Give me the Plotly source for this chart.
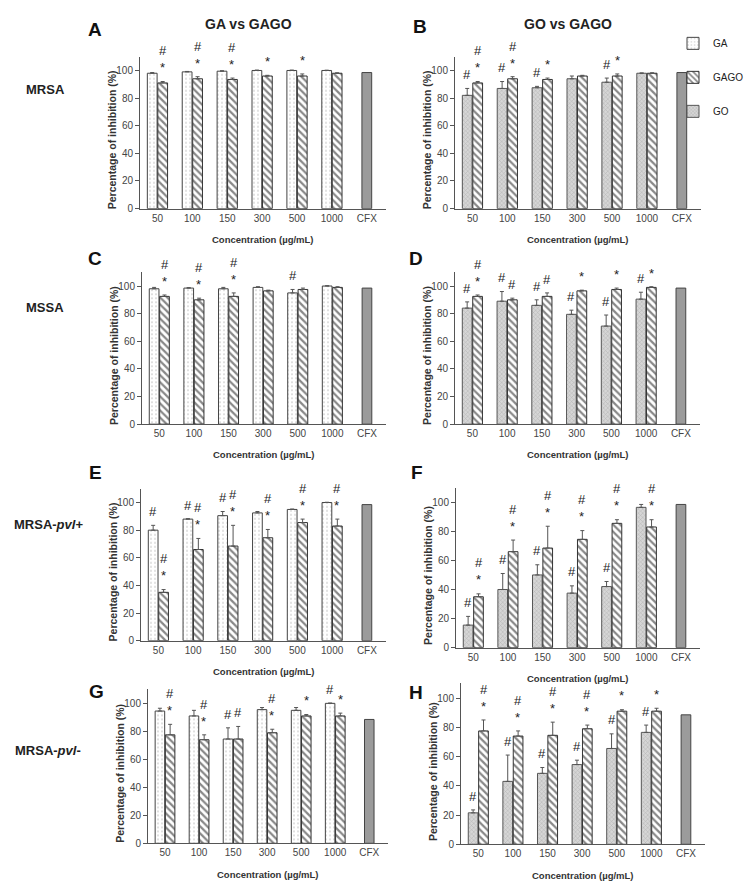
import plotly.graph_objects as go
from plotly.subplots import make_subplots

# ---------------- data ----------------
conc_labels = ["50", "100", "150", "300", "500", "1000"]
cfx_label = "CFX"

# MRSA
mrsa_ga = [98, 99, 99.5, 100, 100, 100]
mrsa_ga_err = [0.5, 0.3, 0.3, 0.3, 0.3, 0.2]
mrsa_gago = [91, 94, 93.5, 96, 96, 98]
mrsa_gago_err = [1, 1.5, 1, 0.5, 1.5, 0.3]
mrsa_go = [82, 87, 87.5, 94, 91.5, 98]
mrsa_go_err = [5, 5, 1, 2, 3, 0.2]
mrsa_cfx = 98.5

# MSSA
mssa_ga = [98, 98.5, 98, 99, 95, 100]
mssa_ga_err = [1, 0.3, 1, 0.5, 2.5, 0.2]
mssa_gago = [92.5, 90, 92.5, 96.5, 97.5, 99]
mssa_gago_err = [1, 1.2, 2.5, 0.5, 1, 0.5]
mssa_go = [84, 89, 86, 79.5, 71, 90.5]
mssa_go_err = [4.5, 7, 4, 3, 8, 5]
mssa_cfx = 98.5

# MRSA-pvl+
pvlp_ga = [80, 88, 90.5, 92.5, 95, 100]
pvlp_ga_err = [3.5, 0.3, 3, 1, 0.3, 0.2]
pvlp_gago = [35, 66, 68.5, 74.5, 85.5, 83]
pvlp_gago_err = [2, 8, 15, 6, 2.5, 5]
pvlp_go = [15.5, 40, 50, 37.5, 42, 96.5]
pvlp_go_err = [6, 11, 7, 5, 3.5, 2]
pvlp_cfx = 98.5

# MRSA-pvl-
pvln_ga = [94.5, 91, 74.5, 95.5, 95, 100]
pvln_ga_err = [2, 4, 8, 1.5, 2, 0.2]
pvln_gago = [77.5, 74, 74.5, 79, 91, 91]
pvln_gago_err = [7.5, 3.5, 9, 2.5, 1, 2]
pvln_go = [21.5, 43, 48.5, 54.5, 65.5, 76.5]
pvln_go_err = [2, 18, 4, 3, 10, 5]
pvln_cfx = 88.5

# significance marks ("#" vs control, "*" GAGO vs single)
sig_A_ga = ["", "", "", "", "", ""]
sig_A_gago = ["#*", "#*", "#*", "*", "*", ""]
sig_B_go = ["#", "#", "#", "", "#", ""]
sig_B_gago = ["#*", "#*", "*", "", "*", ""]
sig_C_ga = ["", "", "", "", "#", ""]
sig_C_gago = ["#*", "#*", "#*", "", "", ""]
sig_D_go = ["#", "#", "#", "#", "#", "#"]
sig_D_gago = ["#*", "#", "#", "*", "*", "*"]
sig_E_ga = ["#", "#", "#", "", "", ""]
sig_E_gago = ["#*", "#*", "#*", "#*", "#*", "#*"]
sig_F_go = ["#", "#", "#", "#", "#", ""]
sig_F_gago = ["#*", "#*", "#*", "#*", "#*", "#*"]
sig_G_ga = ["", "", "#", "", "", "#"]
sig_G_gago = ["#*", "#*", "#", "#*", "*", "*"]
sig_H_go = ["#", "#", "#", "#", "#", "#"]
sig_H_gago = ["#*", "#*", "#*", "#*", "*", "*"]

row_labels = ["MRSA", "MSSA", "MRSA-<i>pvl</i>+", "MRSA-<i>pvl</i>-"]
col_titles = ["GA vs GAGO", "GO vs GAGO"]
panel_letters = ["A", "B", "C", "D", "E", "F", "G", "H"]
y_title = "Percentage of inhibition (%)"
x_title = "Concentration (µg/mL)"

# ---------------- styles ----------------
W, H = 753, 885
FONT = "Liberation Sans, Arial, sans-serif"

style = {
    "GA": dict(color="white",
               pattern=dict(shape=".", fgcolor="#8a8a8a", bgcolor="white", size=4, solidity=0.15),
               line=dict(color="#444", width=1)),
    "GAGO": dict(color="white",
                 pattern=dict(shape="\\", fgcolor="#111", bgcolor="white", size=5, solidity=0.45),
                 line=dict(color="#333", width=1)),
    "GO": dict(color="#cfcfcf",
               pattern=dict(shape="x", fgcolor="#8a8a8a", bgcolor="#d6d6d6", size=3, solidity=0.3),
               line=dict(color="#555", width=1)),
    "CFX": dict(color="#9b9b9b", line=dict(color="#444", width=1)),
}

# panel boxes in pixels: left, right, top(=110%), bottom(=0%)
boxes = [
    (132, 378, 49, 202), (447, 693, 49, 202),
    (134, 378, 266, 419), (447, 692, 266, 419),
    (133, 378, 484, 637), (448, 692, 483, 644),
    (140, 380, 686, 841), (453, 697, 680, 842),
]
letter_pos = [(87, 22), (412, 19), (87, 252), (408, 252), (87, 468), (409, 468), (88, 688), (408, 689)]

panels = [
    ("GA", mrsa_ga, mrsa_ga_err, sig_A_ga, mrsa_gago, mrsa_gago_err, sig_A_gago, mrsa_cfx),
    ("GO", mrsa_go, mrsa_go_err, sig_B_go, mrsa_gago, mrsa_gago_err, sig_B_gago, mrsa_cfx),
    ("GA", mssa_ga, mssa_ga_err, sig_C_ga, mssa_gago, mssa_gago_err, sig_C_gago, mssa_cfx),
    ("GO", mssa_go, mssa_go_err, sig_D_go, mssa_gago, mssa_gago_err, sig_D_gago, mssa_cfx),
    ("GA", pvlp_ga, pvlp_ga_err, sig_E_ga, pvlp_gago, pvlp_gago_err, sig_E_gago, pvlp_cfx),
    ("GO", pvlp_go, pvlp_go_err, sig_F_go, pvlp_gago, pvlp_gago_err, sig_F_gago, pvlp_cfx),
    ("GA", pvln_ga, pvln_ga_err, sig_G_ga, pvln_gago, pvln_gago_err, sig_G_gago, pvln_cfx),
    ("GO", pvln_go, pvln_go_err, sig_H_go, pvln_gago, pvln_gago_err, sig_H_gago, pvln_cfx),
]

fig = make_subplots(rows=4, cols=2)
idx = list(range(len(conc_labels)))
BW = 0.28
legend_done = set()
annotations = []

for p, (name1, v1, e1, s1, v2, e2, s2, cfx) in enumerate(panels):
    r, c = p // 2 + 1, p % 2 + 1
    ax = "" if p == 0 else str(p + 1)
    xr, yr = "x" + ax, "y" + ax
    for name, vals, errs, off in ((name1, v1, e1, -BW - 0.01), ("GAGO", v2, e2, 0.01)):
        fig.add_trace(go.Bar(
            x=idx, y=vals, width=BW, offset=off, name=name, legendgroup=name,
            marker=style[name],
            error_y=dict(type="data", array=errs, arrayminus=[0] * len(errs), symmetric=False,
                         color="#555", thickness=1, width=2),
            showlegend=name not in legend_done, legendrank={"GA": 1, "GAGO": 2, "GO": 3}[name],
        ), row=r, col=c)
        legend_done.add(name)
    fig.add_trace(go.Bar(x=[len(idx)], y=[cfx], width=BW, offset=-BW / 2, name=cfx_label,
                         marker=style["CFX"], showlegend=False), row=r, col=c)

    # significance marks
    for vals, errs, sigs, xc in ((v1, e1, s1, -BW / 2 - 0.01), (v2, e2, s2, BW / 2 + 0.01)):
        for i, s in enumerate(sigs):
            if not s:
                continue
            annotations.append(dict(
                x=i + xc, y=vals[i] + errs[i] + 3, xref=xr, yref=yr,
                text="<br>".join(list(s)), showarrow=False, yanchor="bottom",
                font=dict(size=13, color="#222", family=FONT),
            ))

    L, R, T, B = boxes[p]
    fig.update_xaxes(domain=[L / W, R / W], range=[-0.5, 6.55],
                     tickvals=idx + [len(idx)], ticktext=conc_labels + [cfx_label],
                     showline=True, linecolor="#555", linewidth=1, ticks="",
                     tickfont=dict(size=10, color="#444", family=FONT),
                     showgrid=False, zeroline=False, fixedrange=True, row=r, col=c)
    fig.update_yaxes(domain=[1 - B / H, 1 - T / H], range=[0, 110],
                     tickvals=[0, 20, 40, 60, 80, 100],
                     showline=True, linecolor="#555", linewidth=1, ticks="outside",
                     ticklen=4, tickcolor="#555",
                     tickfont=dict(size=10, color="#444", family=FONT),
                     showgrid=False, zeroline=False, fixedrange=True, row=r, col=c)

    # axis titles
    annotations.append(dict(x=-0.115, y=50, xref=xr + " domain", yref=yr, text="<b>" + y_title + "</b>",
                            textangle=-90, showarrow=False, xanchor="center", yanchor="middle",
                            font=dict(size=10.5, color="#333", family=FONT)))
    annotations.append(dict(x=0.5, y=-31 / (B - T), xref=xr + " domain", yref=yr + " domain",
                            text="<b>" + x_title + "</b>", showarrow=False,
                            xanchor="center", yanchor="middle",
                            font=dict(size=9.5, color="#333", family=FONT)))
    lx, ly = letter_pos[p]
    annotations.append(dict(x=lx / W, y=1 - ly / H, xref="paper", yref="paper",
                            text="<b>" + panel_letters[p] + "</b>", showarrow=False,
                            xanchor="center", yanchor="middle",
                            font=dict(size=19, color="#111", family=FONT)))

# column titles
for (cx, cy), t in zip([(240, 16), (560, 16)], col_titles):
    annotations.append(dict(x=cx / W, y=1 - cy / H, xref="paper", yref="paper", text="<b>" + t + "</b>",
                            showarrow=False, xanchor="center", yanchor="middle",
                            font=dict(size=14, color="#222", family=FONT)))
# row labels
for (rx, ry), t in zip([(37, 82), (37, 302), (40, 520), (40, 748)], row_labels):
    annotations.append(dict(x=rx / W, y=1 - ry / H, xref="paper", yref="paper", text="<b>" + t + "</b>",
                            showarrow=False, xanchor="center", yanchor="middle",
                            font=dict(size=13, color="#222", family=FONT)))

fig.update_layout(
    width=W, height=H, margin=dict(l=0, r=0, t=0, b=0),
    paper_bgcolor="white", plot_bgcolor="white", barmode="overlay",
    annotations=annotations,
    legend=dict(x=665 / W, y=1 - 21 / H, xanchor="left", yanchor="top",
                font=dict(size=10, color="#222", family=FONT),
                itemwidth=30, tracegroupgap=15, bgcolor="rgba(0,0,0,0)"),
)

fig.write_html("out.html")
